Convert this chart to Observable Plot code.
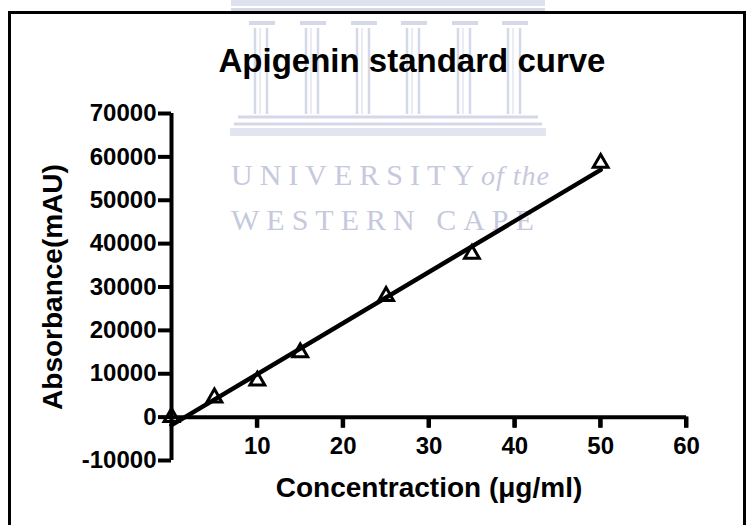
<!DOCTYPE html>
<html>
<head>
<meta charset="utf-8">
<script src="https://cdn.jsdelivr.net/npm/d3@7"></script>
<script src="https://cdn.jsdelivr.net/npm/@observablehq/plot@0.6"></script>
<style>
  body { margin: 0; background: #fff; }
  #wrap { position: relative; width: 753px; height: 525px; overflow: hidden; background: #fff;
          font-family: "Liberation Sans", Arial, sans-serif; }
  #frame { position: absolute; left: 8px; top: 11px; width: 732px; height: 600px; border: 3px solid #000; }
  #bldg { position: absolute; left: 0; top: 0; }
  .wm { position: absolute; font-family: "Liberation Serif", "DejaVu Serif", serif; color: #c6c9de;
        font-size: 30px; line-height: 30px; letter-spacing: 7px; white-space: nowrap; }
  .wm i { letter-spacing: 1px; font-size: 28px; }
  #chart { position: absolute; left: 0; top: 0; }
  #title { position: absolute; left: 112px; width: 600px; top: 44px; text-align: center;
           font-size: 33px; line-height: 33px; font-weight: bold; color: #000; }
</style>
</head>
<body>
<div id="wrap">
  <svg id="bldg" width="753" height="140">
    <g fill="none" stroke="#d5d8e9">
      <rect x="231" y="0" width="314" height="6" fill="#dfe1ee" stroke="none"></rect>
      <line x1="231" x2="545" y1="10" y2="10" stroke-width="4"></line>
      <g id="cols"></g>
      <line x1="238" x2="538" y1="117" y2="117" stroke-width="3"></line>
      <line x1="234" x2="542" y1="124" y2="124" stroke-width="3"></line>
      <rect x="230" y="128" width="316" height="8" fill="#e2e4f0" stroke="none"></rect>
    </g>
  </svg>
  <div id="frame"></div>
  <div class="wm" style="left:231px; top:160px;">UNIVERSITY<i>of the</i></div>
  <div class="wm" style="left:231px; top:205px;">WESTERN CAPE</div>
  <div id="chart"></div>
  <div id="title">Apigenin standard curve</div>
</div>
<script>
// ---- data ----
const conc = [0, 5, 10, 15, 25, 35, 50];                       // µg/ml
const absorb = [0, 4500, 8400, 14900, 27900, 37600, 58600];    // mAU
const xTicks = [10, 20, 30, 40, 50, 60];
const yTicks = [-10000, 0, 10000, 20000, 30000, 40000, 50000, 60000, 70000];
const xDomain = [0, 60];
const yDomain = [-10000, 70000];
const titleText = "Apigenin standard curve";
const xLabel = "Concentraction (\u03bcg/ml)";
const yLabel = "Absorbance(mAU)";

const data = conc.map((c, i) => ({x: c, y: absorb[i]}));

// decorative watermark columns
const cols = document.getElementById("cols");
[262, 313, 364, 414, 465, 515].forEach(cx => {
  const ns = "http://www.w3.org/2000/svg";
  const cap = document.createElementNS(ns, "rect");
  cap.setAttribute("x", cx - 13); cap.setAttribute("y", 21); cap.setAttribute("width", 26); cap.setAttribute("height", 4);
  cap.setAttribute("fill", "#d5d8e9"); cap.setAttribute("stroke", "none");
  cols.appendChild(cap);
  [-7, -2, 5].forEach(o => {
    const l = document.createElementNS(ns, "line");
    l.setAttribute("x1", cx + o); l.setAttribute("x2", cx + o);
    l.setAttribute("y1", 28); l.setAttribute("y2", 114);
    l.setAttribute("stroke-width", o === -2 ? 1 : 2.5);
    cols.appendChild(l);
  });
});

document.getElementById("title").textContent = titleText;

const W = 753, H = 525, mL = 171, mR = 67, mT = 113, yBottomPx = 460;
// frame bottom sits on y = 0 so the x axis is drawn there; the y range reaches down to -10000
const zeroPx = yBottomPx - (0 - yDomain[0]) / (yDomain[1] - yDomain[0]) * (yBottomPx - mT);
const mB = H - zeroPx;

const chart = Plot.plot({
  width: W,
  height: H,
  marginLeft: mL,
  marginRight: mR,
  marginTop: mT,
  marginBottom: mB,
  style: {background: "transparent", fontFamily: "'Liberation Sans', Arial, sans-serif",
          fontWeight: "bold", fontSize: "24px", color: "#000", overflow: "visible"},
  x: {domain: xDomain},
  y: {domain: yDomain, range: [yBottomPx, mT]},
  marks: [
    Plot.ruleX([0], {y1: () => yDomain[0], y2: () => yDomain[1], stroke: "#000", strokeWidth: 4}),
    Plot.ruleY([0], {stroke: "#000", strokeWidth: 4}),
    Plot.axisY(yTicks, {tickSize: 13, tickPadding: 2, tickFormat: d => String(d), strokeWidth: 4, label: null}),
    Plot.axisX(xTicks, {anchor: "bottom", tickSize: 11, tickPadding: 9,
                        tickFormat: d => String(d), strokeWidth: 4, label: null}),
    Plot.rect(xTicks, {x1: d => d, x2: d => d, y1: () => 0, y2: () => 0,
                       insetLeft: -2, insetRight: -2, insetTop: 0, insetBottom: -11, fill: "#000"}),
    Plot.text([yLabel], {frameAnchor: "left", y: () => (yDomain[0] + yDomain[1]) / 2,
                         textAnchor: "middle", rotate: -90, dx: -118, fontSize: 28}),
    Plot.text([xLabel], {x: () => (xDomain[0] + xDomain[1]) / 2, y: () => yDomain[0],
                         textAnchor: "middle", dy: 28, fontSize: 28}),
    Plot.linearRegressionY(data, {x: "x", y: "y", ci: 0, stroke: "#000", strokeWidth: 4.5}),
    Plot.dot(data, {x: "x", y: "y", symbol: "triangle", r: 5.5, stroke: "#000", strokeWidth: 3, fill: "none"})
  ]
});
document.getElementById("chart").appendChild(chart);
</script>
</body>
</html>
